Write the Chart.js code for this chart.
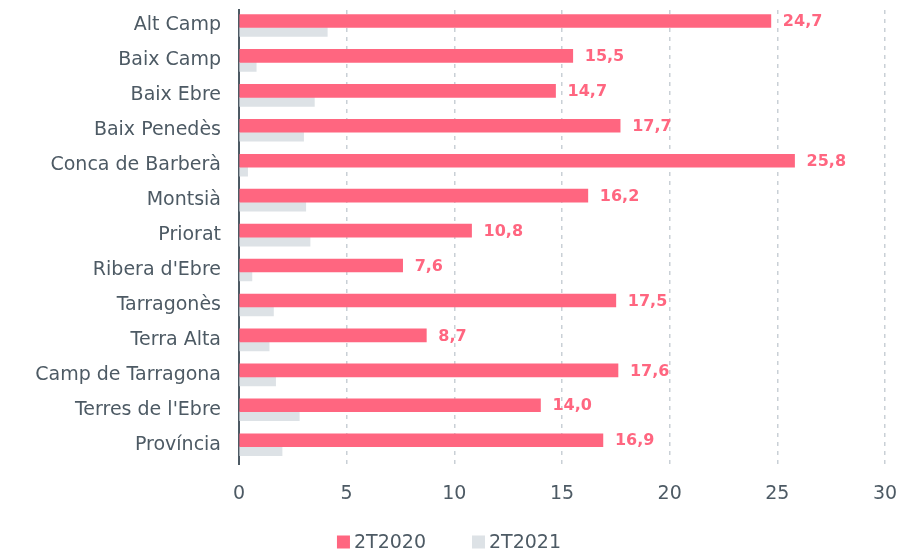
<!DOCTYPE html>
<html>
<head>
<meta charset="utf-8">
<script src="https://cdn.jsdelivr.net/npm/chart.js@4"></script>
<style>
  html, body { margin: 0; padding: 0; background: #fff; }
  #wrap { width: 898px; height: 553px; }
</style>
</head>
<body>
<div id="wrap"><canvas id="chart"></canvas></div>
<script>
const comarques = ['Alt Camp', 'Baix Camp', 'Baix Ebre', 'Baix Penedès', 'Conca de Barberà', 'Montsià', 'Priorat',
  "Ribera d'Ebre", 'Tarragonès', 'Terra Alta', 'Camp de Tarragona', "Terres de l'Ebre", 'Província'];
const valors2020 = [24.7, 15.5, 14.7, 17.7, 25.8, 16.2, 10.8, 7.6, 17.5, 8.7, 17.6, 14.0, 16.9];
const valors2021 = [4.1, 0.8, 3.5, 3.0, 0.4, 3.1, 3.3, 0.6, 1.6, 1.4, 1.7, 2.8, 2.0];
const xTicks = [0, 5, 10, 15, 20, 25, 30];

const textColor = '#4d5a64';
const pink = '#ff6680';
const grey = '#dde2e6';
const fontFamily = '"DejaVu Sans", sans-serif';

// etiquetes de valor per a la sèrie 2T2020
const valueLabels = {
  id: 'valueLabels',
  afterDatasetsDraw(chart) {
    const ctx = chart.ctx;
    const meta = chart.getDatasetMeta(0);
    ctx.save();
    ctx.font = 'bold 16px ' + fontFamily;
    ctx.fillStyle = pink;
    ctx.textBaseline = 'middle';
    ctx.textAlign = 'left';
    meta.data.forEach((bar, i) => {
      const txt = valors2020[i].toFixed(1).replace('.', ',');
      ctx.fillText(txt, bar.x + 12, bar.y + 1);
    });
    ctx.restore();
  }
};

// llegenda a sota, centrada
const bottomLegend = {
  id: 'bottomLegend',
  afterDraw(chart) {
    const ctx = chart.ctx;
    const items = chart.data.datasets.map(ds => ({ text: ds.label, color: ds.backgroundColor }));
    const box = 13, gapText = 4, gapItem = 46;
    ctx.save();
    ctx.font = '19px ' + fontFamily;
    ctx.textBaseline = 'middle';
    const widths = items.map(it => box + gapText + ctx.measureText(it.text).width);
    const total = widths.reduce((a, b) => a + b, 0) + gapItem * (items.length - 1);
    let x = (chart.width - total) / 2;
    const y = chart.height - 11;
    items.forEach((it, i) => {
      ctx.fillStyle = it.color;
      ctx.fillRect(x, y - box / 2, box, box);
      ctx.fillStyle = textColor;
      ctx.fillText(it.text, x + box + gapText, y + 1);
      x += widths[i] + gapItem;
    });
    ctx.restore();
  }
};

new Chart(document.getElementById('chart'), {
  type: 'bar',
  data: {
    labels: comarques,
    datasets: [
      { label: '2T2020', data: valors2020, backgroundColor: pink, barThickness: 13 },
      { label: '2T2021', data: valors2021, backgroundColor: grey, barThickness: 9 }
    ]
  },
  options: {
    indexAxis: 'y',
    responsive: true,
    maintainAspectRatio: false,
    animation: false,
    layout: { padding: { top: 10, right: 13, bottom: 30, left: 0 } },
    plugins: {
      legend: { display: false },
      tooltip: { enabled: false }
    },
    scales: {
      x: {
        min: 0,
        max: 30,
        afterBuildTicks: (axis) => { axis.ticks = xTicks.map(v => ({ value: v })); },
        afterFit: (axis) => { axis.paddingLeft = 0; axis.paddingRight = 0; },
        ticks: { color: textColor, font: { family: fontFamily, size: 19 }, padding: 18 },
        grid: { color: '#c9d0d6', lineWidth: 1.5, drawTicks: false },
        border: { display: false, dash: [4, 5] }
      },
      y: {
        afterFit: (axis) => { axis.width = 239; axis.paddingTop = 0; axis.paddingBottom = 0; },
        ticks: { color: textColor, font: { family: fontFamily, size: 19 }, padding: 18, labelOffset: -2 },
        grid: { display: false, drawTicks: false },
        border: { color: textColor, width: 2 }
      }
    }
  },
  plugins: [valueLabels, bottomLegend]
});
</script>
</body>
</html>
